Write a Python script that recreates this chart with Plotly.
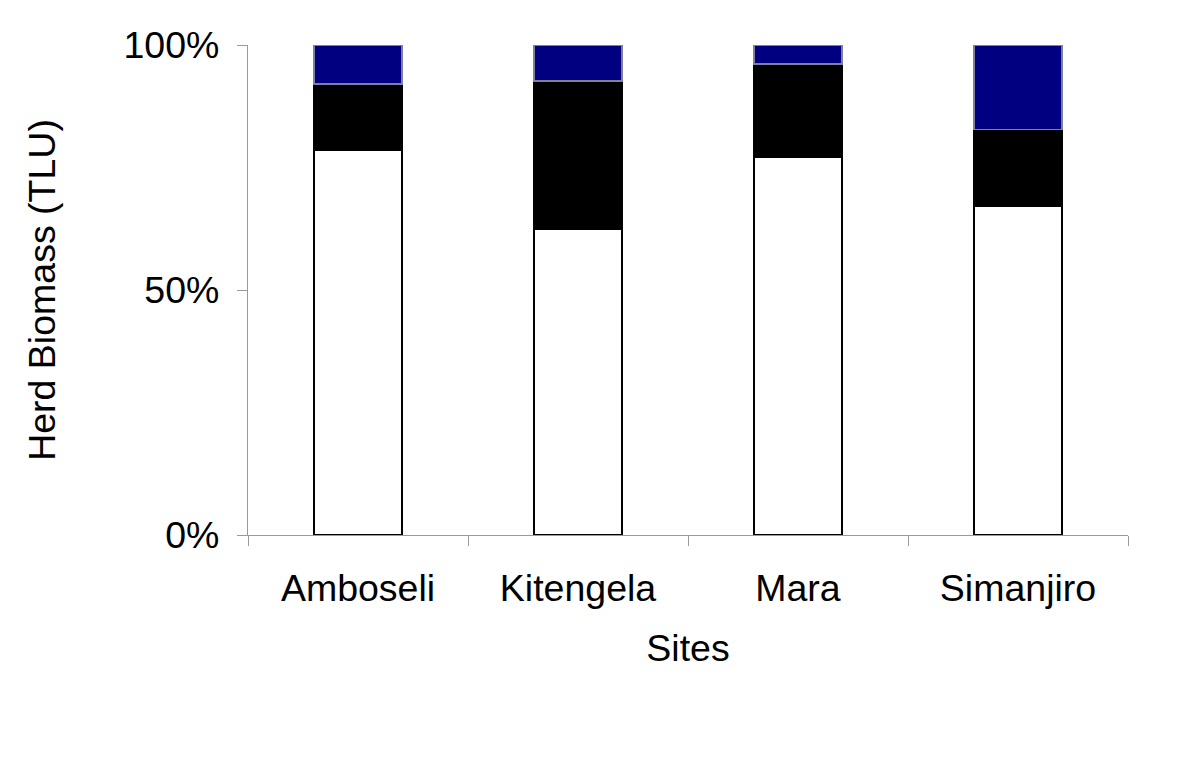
import plotly.graph_objects as go

# ─── Data ─────────────────────────────────────────────────────────────────────
sites = ["Amboseli", "Kitengela", "Mara", "Simanjiro"]
share_white = [78.6, 62.4, 77.0, 67.0]
share_black = [13.4, 30.3, 19.1, 15.8]
share_blue = [8.0, 7.3, 3.9, 17.2]
y_ticks = [0, 50, 100]
y_tick_labels = ["0%", "50%", "100%"]

FONT = "Liberation Sans, Arial, sans-serif"
AXIS_GREY = "#9a9a9a"
FS = 37.5

fig = go.Figure()
for vals, fill, edge in [
    (share_white, "#ffffff", "#000000"),
    (share_black, "#000000", "#000000"),
    (share_blue, "#000080", "#7f7f9f"),
]:
    fig.add_trace(go.Bar(
        x=sites, y=vals,
        marker_color=fill,
        marker_line_color=edge,
        marker_line_width=1.5,
        width=0.4,
        showlegend=False,
        hoverinfo="skip",
    ))

# page body has an 8px margin, so the plot box is shifted up/left by 8
fig.update_layout(
    barmode="stack",
    width=1200, height=765,
    paper_bgcolor="#ffffff", plot_bgcolor="#ffffff",
    margin=dict(l=240, r=80, t=37, b=238),
    font=dict(family=FONT, size=FS, color="#000000"),
    xaxis=dict(
        showline=True, linecolor=AXIS_GREY, linewidth=1.2,
        ticks="outside", tickson="boundaries", ticklen=10,
        tickcolor=AXIS_GREY, tickwidth=1.2,
        tickfont=dict(size=FS), showgrid=False,
        ticklabelstandoff=20,
        title=dict(text="Sites", font=dict(size=FS), standoff=26),
    ),
    yaxis=dict(
        range=[0, 100],
        tickvals=y_ticks, ticktext=y_tick_labels,
        showline=True, linecolor=AXIS_GREY, linewidth=1.2,
        ticks="outside", ticklen=10, tickcolor=AXIS_GREY, tickwidth=1.2,
        tickfont=dict(size=FS), showgrid=False, zeroline=False,
        ticklabelstandoff=10,
        title=dict(text="Herd Biomass (TLU)", font=dict(size=FS), standoff=56),
    ),
)

fig.write_html("out.html")
